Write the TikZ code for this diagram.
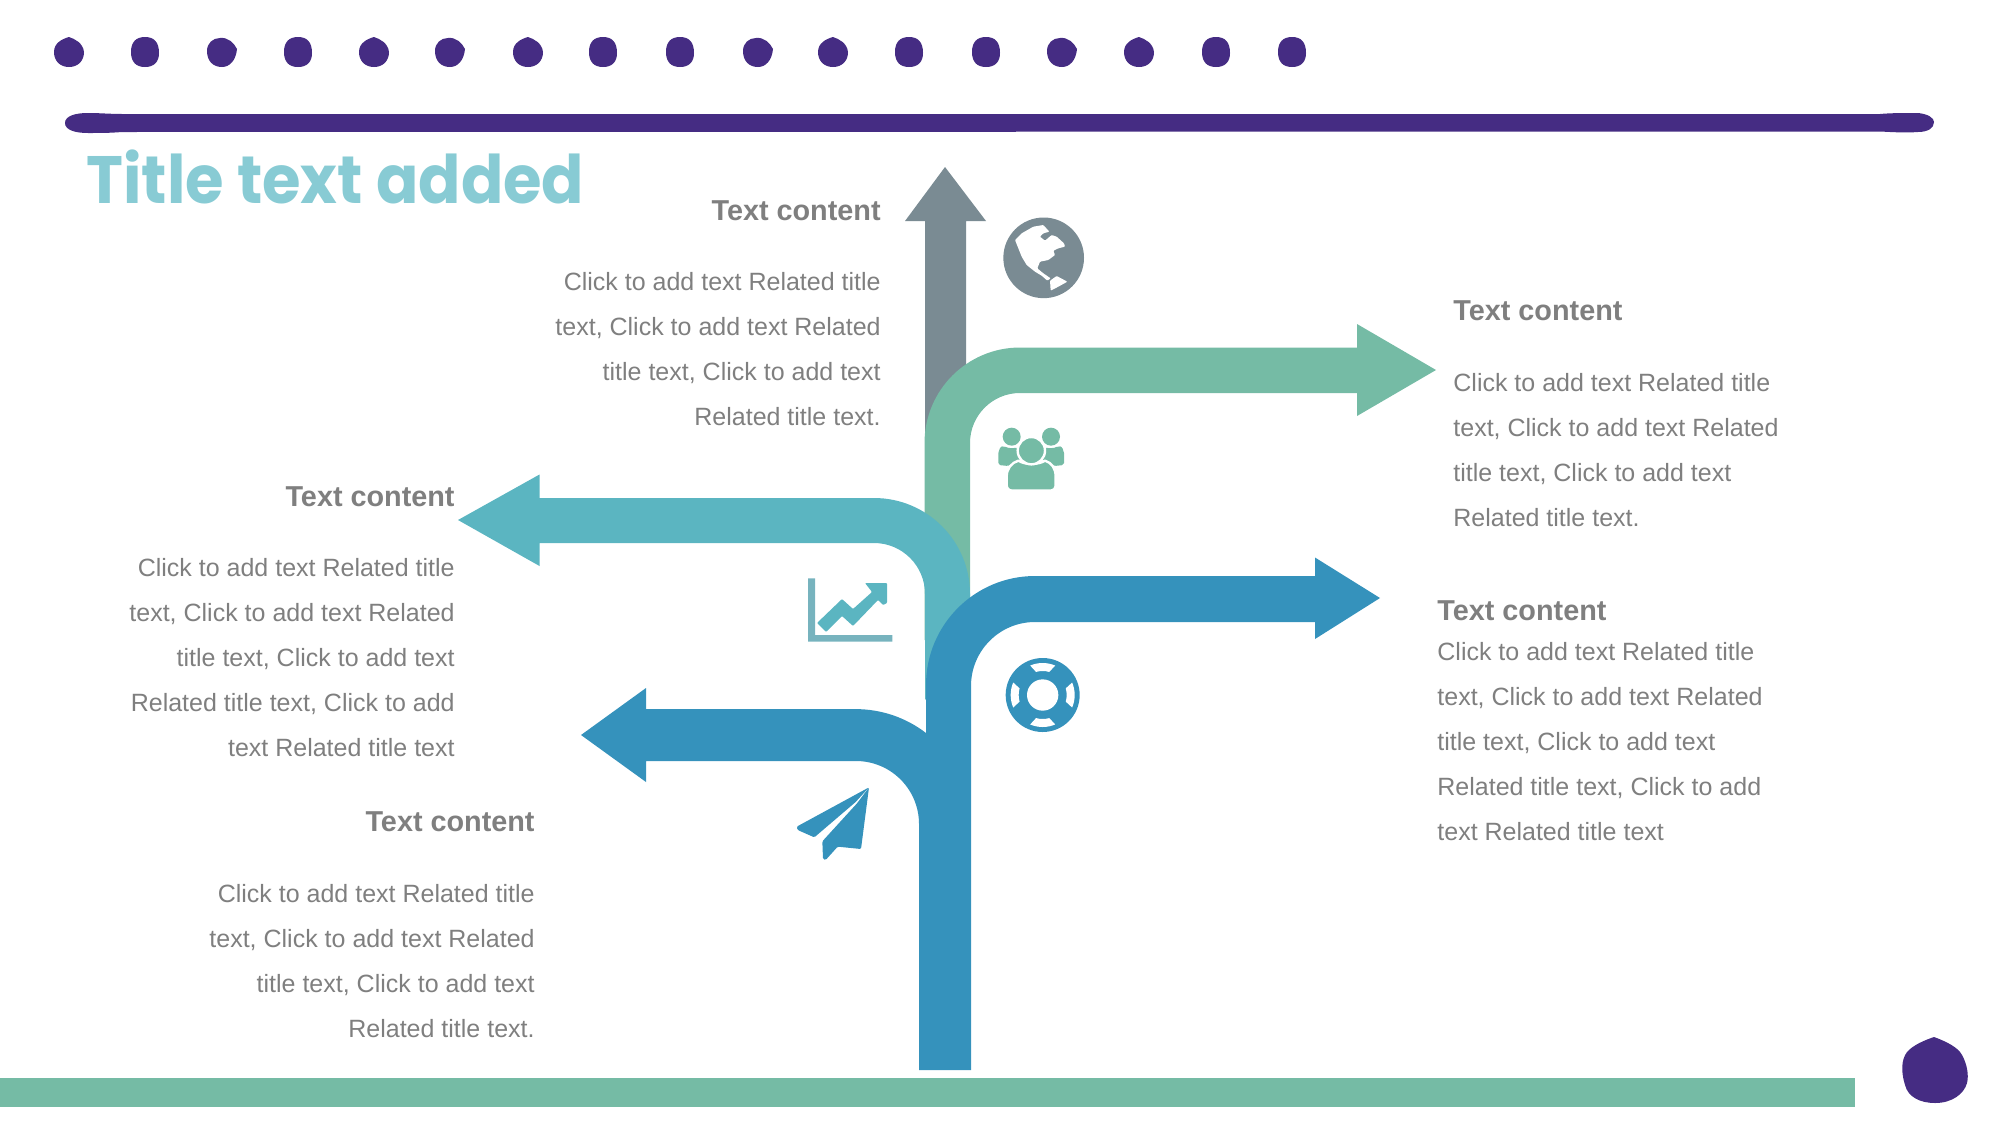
\documentclass[tikz,border=0pt]{standalone}
\usepackage{fontspec}
\setmainfont{Liberation Sans}
\newfontfamily\titlefont{Poppins}
\definecolor{cgray}{HTML}{7A8B93}
\definecolor{cgreen}{HTML}{75BBA5}
\definecolor{cteal}{HTML}{5BB5C1}
\definecolor{cblue}{HTML}{3592BC}
\definecolor{cpurple}{HTML}{452C83}
\definecolor{ctext}{HTML}{7F7F7F}
\definecolor{ctitle}{HTML}{88CBD4}
\definecolor{caxis}{HTML}{77B3BE}
\tikzset{
  head/.style={text=ctext,font=\fontsize{14.4}{16}\selectfont\bfseries,inner sep=0pt},
  bodyr/.style={text=ctext,font=\fontsize{12.5}{22.5}\selectfont,inner sep=0pt,align=right,anchor=north east},
  bodyl/.style={text=ctext,font=\fontsize{12.5}{22.5}\selectfont,inner sep=0pt,align=left,anchor=north west},
  icon/.style={scale=1/3,every path/.append style={line join=round}},
}
\newcommand{\blobA}{(0,-15) .. controls (6,-13) and (14,-9) .. (15,0) .. controls (15,9) and (9,15) .. (0,15) .. controls (-9,15) and (-15,9) .. (-15,0) .. controls (-15,-9) and (-7,-13) .. (0,-15) -- cycle}
\newcommand{\blobB}{(0,-15) .. controls (9,-15) and (14,-10) .. (14,1) .. controls (14,10) and (9,15) .. (0,15) .. controls (-9,15) and (-14,10) .. (-14,0) .. controls (-14,-10) and (-9,-15) .. (0,-15) -- cycle}
\newcommand{\blobC}{(-2,-14) .. controls (6,-15) and (12,-9) .. (15,-3) .. controls (14,8) and (8,15) .. (0,15) .. controls (-9,15) and (-15,9) .. (-15,-1) .. controls (-15,-9) and (-9,-14) .. (-2,-14) -- cycle}
\begin{document}
\begin{tikzpicture}[x=0.5pt,y=-0.5pt]
\useasboundingbox (0,0) rectangle (2000,1125);
% dots
\foreach \px/\sh in {69/\blobA,145/\blobB,222/\blobC,298/\blobB,374/\blobA,450/\blobC,528/\blobA,603/\blobB,680/\blobB,758/\blobC,833/\blobA,909/\blobB,986/\blobB,1062/\blobC,1139/\blobA,1216/\blobB,1292/\blobB}
  \fill[cpurple,shift={(\px,52)}] \sh;
% top rule
\fill[cpurple] (65,123) .. controls (65,116) and (75,113) .. (88,113) .. controls (100,113) and (110,114) .. (122,114) -- (1880,114) .. controls (1890,113) and (1905,113) .. (1918,113) .. controls (1928,114) and (1934,118) .. (1934,122) .. controls (1934,128) and (1928,132) .. (1918,132) .. controls (1905,133) and (1890,132) .. (1880,131.5) -- (122,132) .. controls (110,133) and (100,133) .. (88,133) .. controls (75,133) and (65,130) .. (65,123) -- cycle;
% title
\node[anchor=base west,inner sep=0pt,text=ctitle,font=\titlefont\fontsize{33.5}{40}\selectfont\bfseries,xscale=0.932] (ttl) at (86,203) {Title text added};
% gray arrow
\fill[cgray] (945,167) -- (986,221) -- (966,221) -- (966,520) -- (925,520) -- (925,221) -- (905,221) -- cycle;
% green arrow
\fill[cgreen] (1436,370) -- (1357,416) -- (1357,393) -- (1020,393) arc[start angle=270,end angle=180,radius=50] -- (970,640) -- (924.5,640) -- (924.5,443) arc[start angle=180,end angle=270,radius=95.5] -- (1357,347.5) -- (1357,324) -- cycle;
% teal arrow
\fill[cteal] (458,520) -- (539.5,474.5) -- (539.5,498) -- (874,498) arc[start angle=270,end angle=360,radius=96] -- (970,640) -- (925,700) -- (925,594) arc[start angle=0,end angle=-90,radius=51] -- (539.5,543) -- (539.5,566) -- cycle;
% blue arrows and trunk
\fill[cblue] (1380,598) -- (1315,557.5) -- (1315,576) -- (1035,576) arc[start angle=270,end angle=180,radius=109] -- (926,733) arc[start angle=-52.4,end angle=-90,radius=115] -- (646,709) -- (646,688) -- (581,735) -- (646,782) -- (646,761) -- (856,761) arc[start angle=-90,end angle=0,radius=63] -- (919,1070) -- (971,1070) -- (971,686) arc[start angle=180,end angle=270,radius=64] -- (1315,622) -- (1315,639) -- cycle;
% bottom bar and blob
\fill[cgreen] (0,1078) rectangle (1855,1107);
\fill[cpurple] (1934,1037) .. controls (1945,1041) and (1958,1047) .. (1962,1055) .. controls (1967,1064) and (1969,1075) .. (1967,1083) .. controls (1964,1094) and (1952,1103) .. (1935,1103) .. controls (1920,1103) and (1908,1097) .. (1905,1085) .. controls (1901,1072) and (1901,1060) .. (1907,1052) .. controls (1913,1045) and (1925,1040) .. (1934,1037) -- cycle;
% globe
\begin{scope}[shift={(990,210)},icon]
\fill[cgray] (161,143.5) circle[radius=121];
\fill[white,rounded corners=0.4pt] (75,90) -- (95,70) -- (130,50) -- (160,45) -- (178,65) -- (160,70) -- (150,80) -- (165,92) -- (185,75) -- (200,80) -- (222,100) -- (225,110) -- (205,115) -- (190,122) -- (195,135) -- (175,150) -- (150,155) -- (142,175) -- (160,190) -- (182,205) -- (172,212) -- (155,197) -- (135,185) -- (110,165) -- (95,140) -- (85,115) -- cycle;
\fill[white,rounded corners=0.4pt] (180,212) -- (200,198) -- (232,215) -- (205,230) -- (182,242) -- cycle;
\end{scope}
% people
\begin{scope}[shift={(990,420)},icon]
\fill[cgreen] (65,50) circle[radius=27];
\fill[cgreen] (183,50) circle[radius=27];
\fill[cgreen,rounded corners=1pt] (25,135) -- (25,105) .. controls (25,90) and (32,80) .. (42,78) .. controls (55,85) and (70,85) .. (82,82) -- (90,125) -- (55,138) -- cycle;
\fill[cgreen,rounded corners=1pt] (222,135) -- (222,105) .. controls (222,90) and (215,80) .. (205,78) .. controls (192,85) and (177,85) .. (165,82) -- (157,125) -- (192,138) -- cycle;
\filldraw[cgreen,draw=white,line width=1.2pt] (68,212) .. controls (56,212) and (50,205) .. (50,195) -- (50,170) .. controls (50,145) and (65,128) .. (85,122) .. controls (105,135) and (145,135) .. (165,122) .. controls (185,128) and (197,145) .. (197,170) -- (197,195) .. controls (197,205) and (191,212) .. (179,212) -- cycle;
\filldraw[cgreen,draw=white,line width=1.2pt] (124,92) circle[radius=41];
\end{scope}
% chart
\begin{scope}[shift={(800,570)},icon]
\fill[caxis] (24,25) -- (45,25) -- (45,195) -- (277,195) -- (277,215) -- (24,215) -- cycle;
\fill[cteal,rounded corners=0.4pt] (51,159) -- (126,87) -- (159,117) -- (216,66) -- (195,39) -- (261,39) -- (261,99) -- (249,105) -- (234,90) -- (159,168) -- (126,138) -- (78,186) -- cycle;
\end{scope}
% lifebuoy
\begin{scope}[shift={(995,650)},icon]
\begin{scope}[shift={(143,135)}]
\fill[cblue] (0,0) circle[radius=111];
\fill[white] (0,0) circle[radius=47];
\foreach \ang in {0,90,180,270}
  \fill[white] (\ang-23:96) arc[start angle=\ang-23,end angle=\ang+23,radius=96] -- (\ang+16:72) arc[start angle=\ang+16,end angle=\ang-16,radius=72] -- cycle;
\end{scope}
\end{scope}
% plane
\begin{scope}[shift={(785,780)},icon]
\fill[cblue,rounded corners=0.6pt] (252,22) -- (35,140) -- (38,150) -- (88,172) -- (212,66) -- cycle;
\fill[cblue,rounded corners=0.6pt] (252,22) -- (228,207) -- (158,200) -- (122,240) -- (114,237) -- (112,184) -- (216,70) -- cycle;
\end{scope}
% texts
\node[head,anchor=base east] (ah) at (881,220) {Text content};
\node[bodyr] (ab) at (881,272) {Click to add text Related title\\text, Click to add text Related\\title text, Click to add text\\Related title text.};
\node[head,anchor=base west] (bh) at (1453,320.5) {Text content};
\node[bodyl] (bb) at (1453,373) {Click to add text Related title\\text, Click to add text Related\\title text, Click to add text\\Related title text.};
\node[head,anchor=base east] (ch) at (455,506) {Text content};
\node[bodyr] (cb) at (455,557.5) {Click to add text Related title\\text, Click to add text Related\\title text, Click to add text\\Related title text, Click to add\\text Related title text};
\node[head,anchor=base west] (dh) at (1437,620) {Text content};
\node[bodyl] (db) at (1437,641.5) {Click to add text Related title\\text, Click to add text Related\\title text, Click to add text\\Related title text, Click to add\\text Related title text};
\node[head,anchor=base east] (eh) at (535,831) {Text content};
\node[bodyr] (eb) at (535,884) {Click to add text Related title\\text, Click to add text Related\\title text, Click to add text\\Related title text.};
\end{tikzpicture}
\end{document}
